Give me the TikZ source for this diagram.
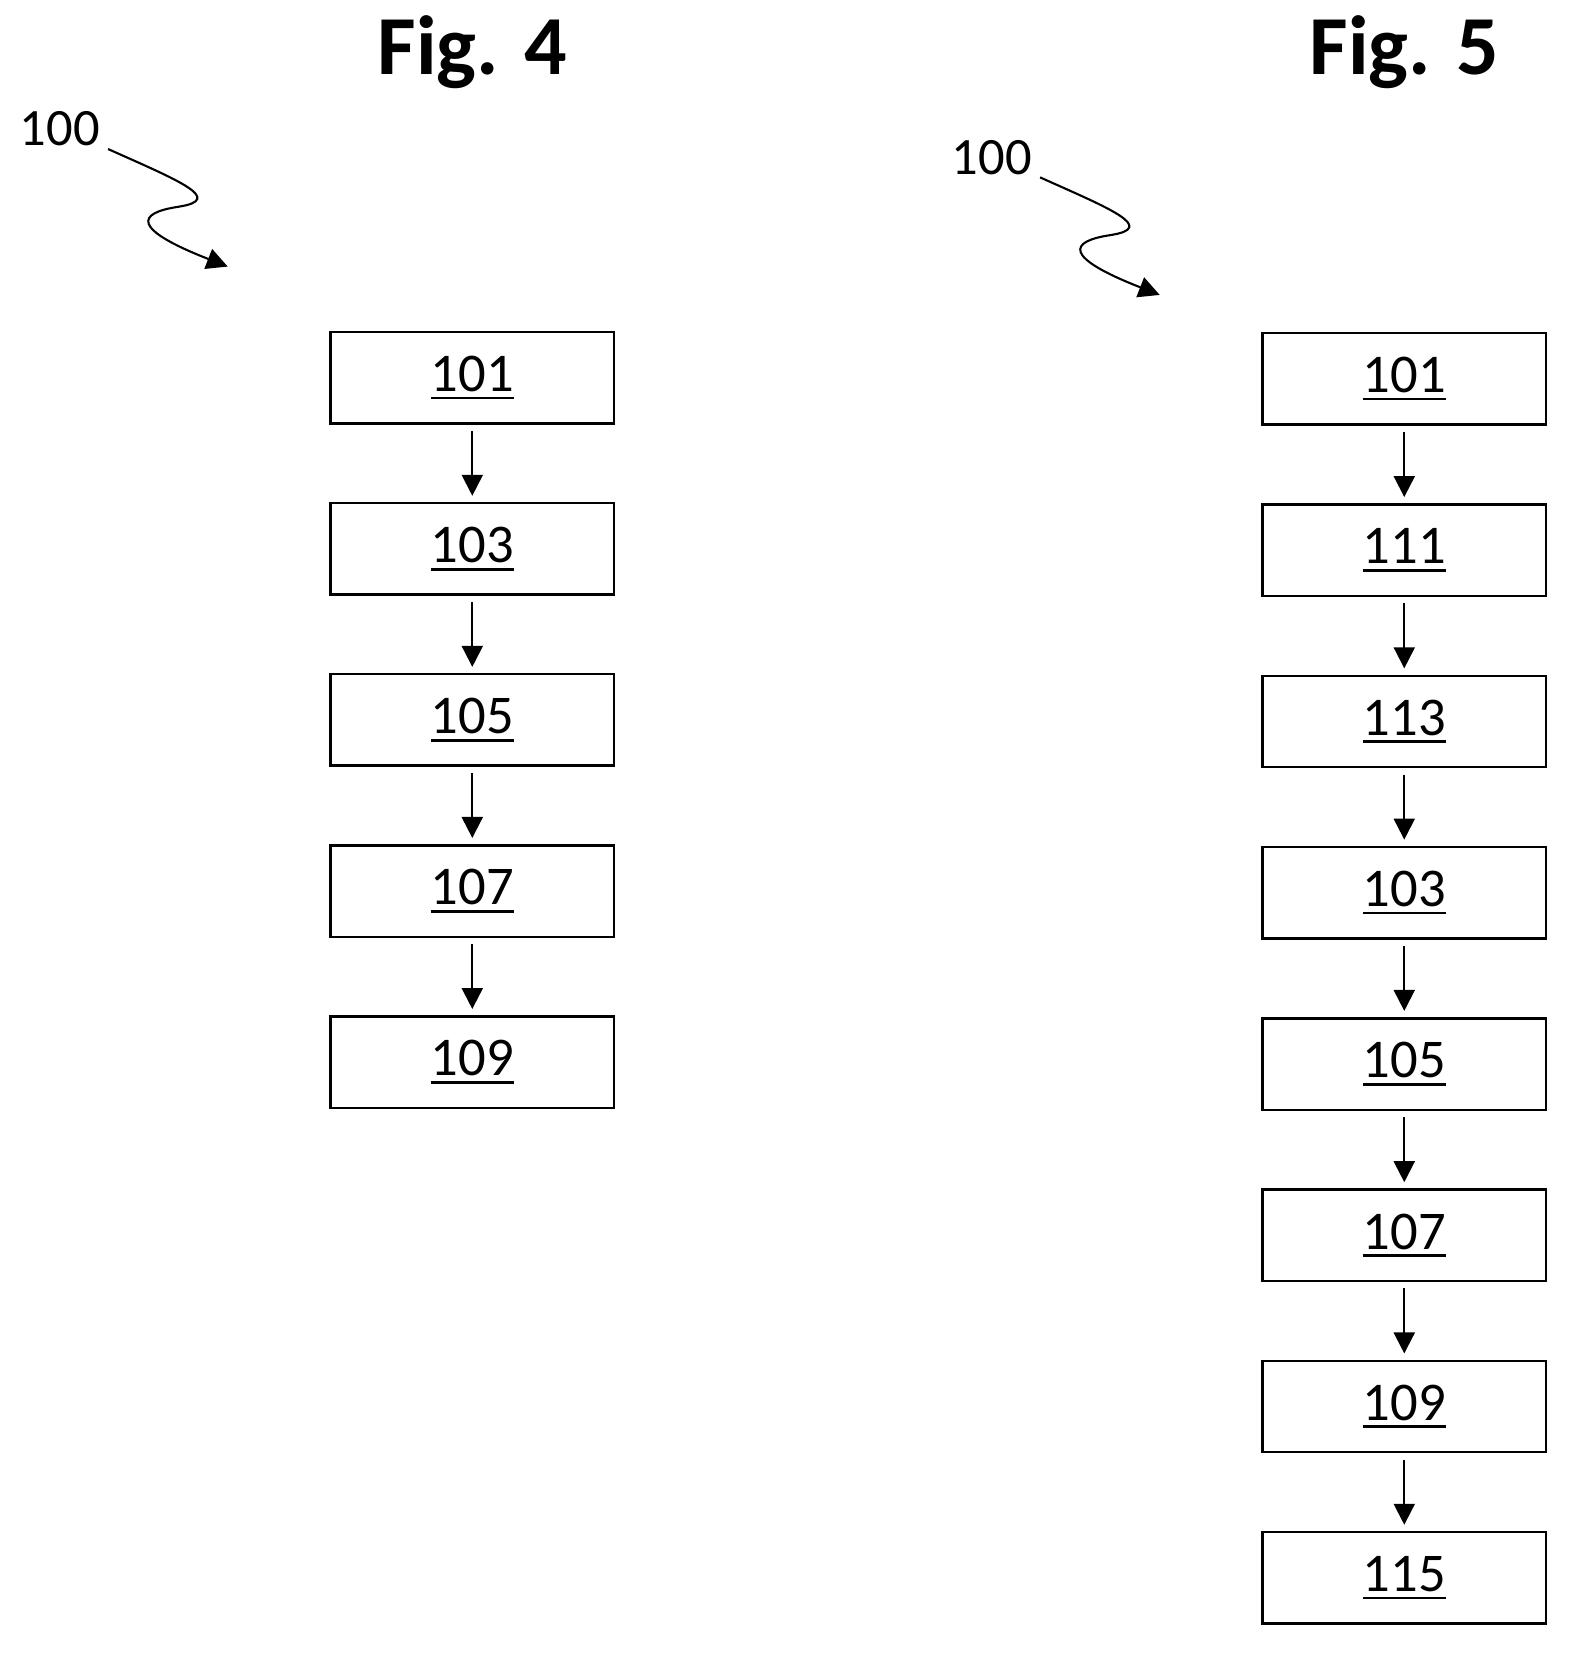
\documentclass[tikz,border=0pt]{standalone}
\usepackage{fontspec}
\setmainfont{Carlito}
\usetikzlibrary{arrows.meta}
\begin{document}
\begin{tikzpicture}[x=0.5pt,y=-0.5pt,
  box/.style={draw,line width=1.1pt,minimum width=135pt,minimum height=43.5pt,inner sep=0pt,font=\fontsize{26}{28}\selectfont},
  arr/.style={line width=1pt,-{Triangle[length=10pt,width=10pt]}},
  ref/.style={font=\fontsize{25}{28}\selectfont},
  ttl/.style={font=\bfseries\fontsize{40}{44}\selectfont}]
\useasboundingbox (0,0) rectangle (1500,1575);
\newcommand{\ul}[1]{\setbox0\hbox{#1}\rlap{\vrule height -2.4pt depth 3.7pt width \wd0}\box0}
\node[ttl] (t4) at (450,50) {Fig. 4};
\node[ttl] (t5) at (1338,50) {Fig. 5};
\node[ref] (r4) at (57,123) {100};
\node[ref] (r5) at (945,150) {100};
\coordinate (e4) at (217,254);
\coordinate (e5) at (1105,281);
\draw[arr] (103,142) .. controls (170,172) and (215,190) .. (170,197) .. controls (130,203) and (125,218) .. (e4);
\draw[arr] (991,169) .. controls (1058,199) and (1103,217) .. (1058,224) .. controls (1018,230) and (1013,245) .. (e5);
\foreach \n/\t [count=\i from 0] in {a1/101,a2/103,a3/105,a4/107,a5/109}
  \node[box] (\n) at (450,{360+163*\i}) {\raisebox{-4pt}{\ul{\t}}};
\foreach \n/\t [count=\i from 0] in {b1/101,b2/111,b3/113,b4/103,b5/105,b6/107,b7/109,b8/115}
  \node[box] (\n) at (1338,{361+163.2*\i}) {\raisebox{-4pt}{\ul{\t}}};
\foreach \a/\b in {a1/a2,a2/a3,a3/a4,a4/a5,b1/b2,b2/b3,b3/b4,b4/b5,b5/b6,b6/b7,b7/b8}
  \draw[arr] ([yshift=-3pt]\a.south) -- ([yshift=3pt]\b.north);
\end{tikzpicture}
\end{document}
